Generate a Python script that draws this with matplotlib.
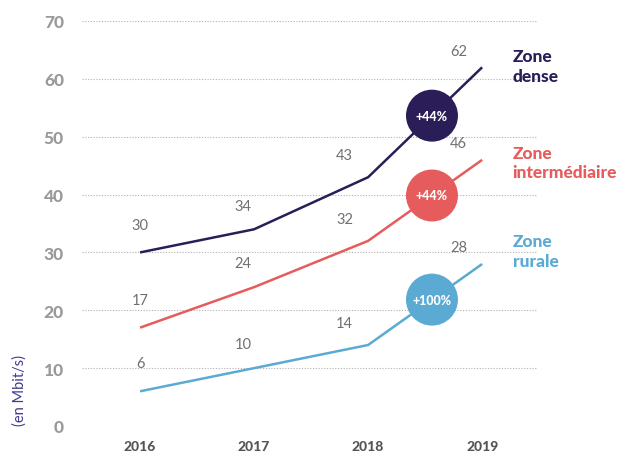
import matplotlib
matplotlib.use("Agg")
import matplotlib.pyplot as plt
import numpy as np

years = [2016, 2017, 2018, 2019]
dense = [30, 34, 43, 62]
inter = [17, 24, 32, 46]
rurale = [6, 10, 14, 28]
series_names = ["Zone\ndense", "Zone\nintermédiaire", "Zone\nrurale"]
growth = ["+44%", "+44%", "+100%"]
yticks = [0, 10, 20, 30, 40, 50, 60, 70]
ylabel = "(en Mbit/s)"

colors = ["#2b1d57", "#e65c5c", "#5aaad4"]
series = [dense, inter, rurale]
name_offsets = [(22, 14), (22, 11), (22, 22)]

plt.rcParams['font.family'] = ['Lato', 'DejaVu Sans']

fig = plt.figure(figsize=(6.29, 4.60), dpi=100)
ax = fig.add_axes([82/629, 33/460, 455/629, 405/460])
ax.set_xlim(2015.491, 2019.481)
ax.set_ylim(0, 70)

for s in ax.spines.values():
    s.set_visible(False)
ax.set_yticks(yticks)
ax.set_xticks(years)
ax.tick_params(axis='both', length=0)
ax.tick_params(axis='y', pad=13, labelsize=12.5, labelcolor="#9a9a9a")
ax.tick_params(axis='x', pad=10, labelsize=10, labelcolor="#555555")
for lab in ax.get_yticklabels() + ax.get_xticklabels():
    lab.set_fontweight('black')
ax.grid(axis='y', linestyle=(0, (1, 1.5)), color="#b0b0b0", linewidth=0.8)
ax.set_axisbelow(True)

# label offsets (points) per year index
offs = [(0, 15), (-8, 12), (-17, 11), (-17, 7)]

for vals, col, name, g, no in zip(series, colors, series_names, growth, name_offsets):
    ax.plot(years, vals, color=col, linewidth=1.8, solid_capstyle='butt', clip_on=False, zorder=3)
    for i, (x, v) in enumerate(zip(years, vals)):
        ax.annotate(str(v), (x, v), xytext=offs[i], textcoords='offset points',
                    ha='center', va='bottom', fontsize=10.5, color="#707070")
    cx = 2018.56
    cy = np.interp(cx, years, vals)
    ax.scatter([cx], [cy], s=1400, color=col, zorder=4, clip_on=False, edgecolors='none')
    ax.text(cx, cy, g, ha='center', va='center', color='white', fontsize=9,
            fontweight='black', zorder=5)
    ax.annotate(name, (years[-1], vals[-1]), xytext=no, textcoords='offset points',
                ha='left', va='top', fontsize=12.5, fontweight='black', color=col,
                linespacing=1.3, annotation_clip=False)

fig.text(20/629, 1 - 391/460, ylabel, rotation=90, ha='center', va='center',
         fontsize=10.5, color="#3f3a91")

fig.savefig("out.png", dpi=100)
